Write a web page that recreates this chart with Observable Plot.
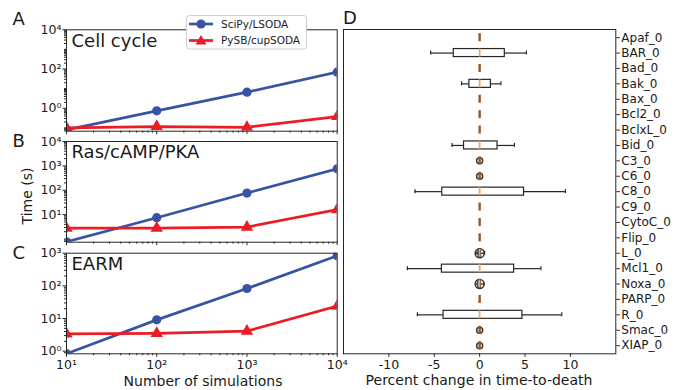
<!DOCTYPE html>
<html><head><meta charset="utf-8">
<script src="https://cdn.jsdelivr.net/npm/d3@7"></script>
<script src="https://cdn.jsdelivr.net/npm/@observablehq/plot@0.6"></script>
<style>
body{margin:0;background:#fff;}
#wrap{position:relative;width:684px;height:390px;overflow:hidden;background:#fff;font-family:"DejaVu Sans",sans-serif;}
#wrap > svg{position:absolute;left:0;top:0;}
</style></head><body><div id="wrap"></div>
<script>
// ---------- data: left panels (time in seconds) ----------
const nSims = [10, 100, 1000, 10000];
const cellCycleSciPy = [0.079, 0.74, 6.6, 69];
const cellCyclePySB  = [0.10, 0.117, 0.107, 0.38];
const rasSciPy = [0.77, 7.5, 77, 760];
const rasPySB  = [2.8, 2.8, 3.1, 16];
const earmSciPy = [0.84, 9.1, 83, 830];
const earmPySB  = [3.4, 3.5, 4.1, 24];
const seriesNames = ["SciPy/LSODA", "PySB/cupSODA"];
const panelTitles = ["Cell cycle", "Ras/cAMP/PKA", "EARM"];
const panelLetters = ["A", "B", "C", "D"];

// ---------- data: panel D (percent change in time-to-death) ----------
const params = ["Apaf_0","BAR_0","Bad_0","Bak_0","Bax_0","Bcl2_0","BclxL_0","Bid_0","C3_0","C6_0","C8_0",
                "C9_0","CytoC_0","Flip_0","L_0","Mcl1_0","Noxa_0","PARP_0","R_0","Smac_0","XIAP_0"];
const whiskerLow  = [0, -5.4, 0, -2.0, 0, 0, 0, -3.03, 0, 0, -7.12, 0, 0, 0, -0.3, -7.96, -0.45, 0, -6.86, 0, 0];
const quartile1   = [0, -2.85, 0, -1.13, 0, 0, 0, -1.72, 0, 0, -4.12, 0, 0, 0, -0.1, -4.16, -0.15, 0, -3.98, 0, 0];
const medians     = [0, 0, 0, 0, 0, 0, 0, 0, 0, 0, 0, 0, 0, 0, 0, 0, 0, 0, 0, 0, 0];
const quartile3   = [0, 2.77, 0, 1.24, 0, 0, 0, 1.97, 0, 0, 4.89, 0, 0, 0, 0.15, 3.80, 0.15, 0, 4.71, 0, 0];
const whiskerHigh = [0, 5.15, 0, 2.34, 0, 0, 0, 3.83, 0, 0, 9.45, 0, 0, 0, 0.55, 6.75, 0.45, 0, 9.05, 0, 0];
const flierRadius = [0, 0, 0, 0, 0, 0, 0, 0, 1.6, 1.6, 0, 0, 0, 0, 3.6, 0, 3.6, 0, 0, 1.6, 1.6];
const xTicksD = [-10, -5, 0, 5, 10];

// ---------- styles ----------
const BLUE = "#3953a4", RED = "#ec1c24", INK = "#1a1a1a", FRAME = "#262626";
const FONT = "DejaVu Sans, sans-serif";
const W = 684, H = 390;
const supMap = {"0":"⁰","1":"¹","2":"²","3":"³","4":"⁴","-":"⁻"};
const sup = d => "10" + String(Math.round(Math.log10(d))).split("").map(c => supMap[c]).join("");
const minorsBetween = (lo, hi) => {
  const out = [];
  for (let e = Math.floor(Math.log10(lo)); e <= Math.ceil(Math.log10(hi)); e++)
    for (let m = 1; m <= 9; m++) { const v = m * Math.pow(10, e); if (v >= lo && v <= hi) out.push(v); }
  return out;
};

const wrap = document.getElementById("wrap");
const baseStyle = {position:"absolute", left:"0px", top:"0px", background:"transparent", overflow:"visible",
                   fontFamily: FONT, fontSize:"12px", color: INK};

function panel(sci, pysb, title, top, bottom, yDomain, yTicks, showXLabels) {
  const rows = nSims.map((n, i) => ({n, sci: sci[i], pysb: pysb[i]}));
  const yMinor = minorsBetween(yDomain[0], yDomain[1]).filter(v => !yTicks.includes(v));
  const xMinor = minorsBetween(10, 1e4).filter(v => !nSims.includes(v));
  return Plot.plot({
    width: W, height: H,
    marginLeft: 66, marginRight: W - 336.7, marginTop: top, marginBottom: H - bottom,
    x: {type: "log", domain: [10, 1e4], label: null},
    y: {type: "log", domain: yDomain, label: null},
    style: baseStyle,
    marks: [
      Plot.line(rows, {x: "n", y: "sci", stroke: BLUE, strokeWidth: 2.7, clip: true}),
      Plot.line(rows, {x: "n", y: "pysb", stroke: RED, strokeWidth: 2.7, clip: true}),
      Plot.dot(rows, {x: "n", y: "sci", r: 4.6, fill: BLUE, stroke: "none", clip: true}),
      Plot.dot(rows, {x: "n", y: "pysb", symbol: "triangle", r: 4.6, fill: RED, stroke: "none", clip: true}),
      Plot.text([title], {text: d => d, frameAnchor: "top-left", dx: 5, dy: 4, fontSize: 18, fill: INK}),
      Plot.axisX({ticks: xMinor, tickSize: 2, tickFormat: () => "", label: null, stroke: FRAME}),
      Plot.axisX({ticks: nSims, tickSize: 3.5, tickPadding: 2.5, tickFormat: showXLabels ? sup : () => "",
                  label: null, stroke: FRAME, fill: INK, fontSize: 12.5}),
      Plot.axisY({ticks: yMinor, tickSize: 2, tickFormat: () => "", label: null, stroke: FRAME}),
      Plot.axisY({ticks: yTicks, tickSize: 3.5, tickPadding: 1.5, tickFormat: sup, label: null,
                  stroke: FRAME, fill: INK, fontSize: 12.5}),
      Plot.frame({stroke: FRAME, strokeWidth: 1})
    ]
  });
}

wrap.appendChild(panel(cellCycleSciPy, cellCyclePySB, panelTitles[0], 29.3, 130.7,
  [Math.pow(10, -1.17), 1e4], [1, 100, 1e4], false));
wrap.appendChild(panel(rasSciPy, rasPySB, panelTitles[1], 141, 241.7,
  [Math.pow(10, -0.13), 1e4], [10, 100, 1000, 1e4], false));
wrap.appendChild(panel(earmSciPy, earmPySB, panelTitles[2], 252.7, 353.3,
  [Math.pow(10, -0.08), 1e3], [1, 10, 100, 1000], true));

// ---------- panel D ----------
const boxRows = params.map((name, i) => ({
  name, lo: whiskerLow[i], q1: quartile1[i], med: medians[i], q3: quartile3[i], hi: whiskerHigh[i], fr: flierRadius[i]
}));
const realBoxes = boxRows.filter(d => d.q3 - d.q1 > 0.05);
const tinyBoxes = boxRows.filter(d => d.q3 - d.q1 <= 0.05);
const flierRows = boxRows.filter(d => d.fr > 0);

wrap.appendChild(Plot.plot({
  width: W, height: H,
  marginLeft: 343, marginRight: W - 615.3, marginTop: 29, marginBottom: H - 353.3,
  x: {domain: [-15, 15], label: null},
  y: {type: "band", domain: params, paddingInner: 0.48, paddingOuter: 0.27, round: false, label: null},
  style: baseStyle,
  marks: [
    Plot.ruleY(realBoxes, {y: "name", x1: "lo", x2: "q1", stroke: FRAME, strokeWidth: 1.2}),
    Plot.ruleY(realBoxes, {y: "name", x1: "q3", x2: "hi", stroke: FRAME, strokeWidth: 1.2}),
    Plot.tickX(realBoxes, {x: "lo", y: "name", insetTop: 2, insetBottom: 2, stroke: FRAME, strokeWidth: 1.2}),
    Plot.tickX(realBoxes, {x: "hi", y: "name", insetTop: 2, insetBottom: 2, stroke: FRAME, strokeWidth: 1.2}),
    Plot.barX(realBoxes, {x1: "q1", x2: "q3", y: "name", fill: "white", stroke: FRAME, strokeWidth: 1.2}),
    Plot.dot(flierRows, {x: "med", y: "name", r: "fr", fill: "none", stroke: "#3a3a3a", strokeWidth: 1.5}),
    Plot.tickX(realBoxes, {x: "med", y: "name", stroke: "#f7a35c", strokeWidth: 1.8}),
    Plot.tickX(tinyBoxes, {x: "med", y: "name", stroke: "#9a5524", strokeWidth: 2.4}),
    Plot.axisX({ticks: xTicksD, tickSize: 3.5, tickPadding: 3, tickFormat: d => (d < 0 ? "-" : "") + Math.abs(d),
                label: null, stroke: FRAME, fill: INK, fontSize: 12.5}),
    Plot.axisY({anchor: "right", tickSize: 3.5, tickPadding: 2, label: null, stroke: FRAME, fill: INK, fontSize: 12}),
    Plot.frame({stroke: FRAME, strokeWidth: 1})
  ]
}));

// ---------- overlay: panel letters, axis titles, legend ----------
const ns = "http://www.w3.org/2000/svg";
const ov = document.createElementNS(ns, "svg");
ov.setAttribute("width", W); ov.setAttribute("height", H);
ov.setAttribute("font-family", FONT);
function el(tag, attrs, text) {
  const e = document.createElementNS(ns, tag);
  for (const k in attrs) e.setAttribute(k, attrs[k]);
  if (text != null) e.textContent = text;
  ov.appendChild(e); return e;
}
const letterPos = [[12.5, 25], [12.5, 147], [12.5, 259], [343, 23.5]];
panelLetters.forEach((L, i) => el("text", {x: letterPos[i][0], y: letterPos[i][1], "font-size": 18, fill: INK}, L));
el("text", {x: 0, y: 0, transform: "translate(32,196) rotate(-90)", "text-anchor": "middle", "font-size": 14, fill: INK}, "Time (s)");
el("text", {x: 203, y: 386, "text-anchor": "middle", "font-size": 14, fill: INK}, "Number of simulations");
el("text", {x: 479, y: 384.5, "text-anchor": "middle", "font-size": 14, fill: INK}, "Percent change in time-to-death");
// legend
el("rect", {x: 186.5, y: 15.5, width: 120, height: 33.5, rx: 3, fill: "white", stroke: "#cfcfcf", "stroke-width": 1});
el("line", {x1: 189, x2: 213, y1: 24, y2: 24, stroke: BLUE, "stroke-width": 2.7});
el("circle", {cx: 201, cy: 24, r: 4.6, fill: BLUE});
el("line", {x1: 189, x2: 213, y1: 40.5, y2: 40.5, stroke: RED, "stroke-width": 2.7});
el("path", {d: "M201,35 L206.5,44.5 L195.5,44.5 Z", fill: RED});
el("text", {x: 221, y: 28, "font-size": 10.5, fill: INK}, seriesNames[0]);
el("text", {x: 221, y: 44.2, "font-size": 10.5, fill: INK}, seriesNames[1]);
wrap.appendChild(ov);
</script>
</body></html>
